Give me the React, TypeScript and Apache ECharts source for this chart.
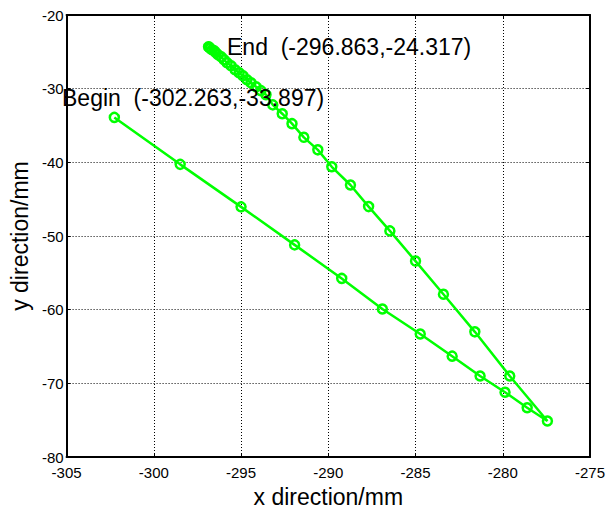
import React, { useEffect, useRef } from "react";
import * as echarts from "echarts";

const outwardPath: [number, number][] = [
  [-302.263, -33.897],
  [-298.49, -40.27],
  [-295.0, -46.04],
  [-291.93, -51.2],
  [-289.23, -55.75],
  [-286.9, -59.9],
  [-284.73, -63.3],
  [-282.9, -66.3],
  [-281.3, -69.0],
  [-279.87, -71.2],
  [-278.6, -73.3],
  [-277.44, -75.1],
];

const returnPath: [number, number][] = [
  [-279.6, -69.0],
  [-281.6, -63.0],
  [-283.4, -57.9],
  [-285.0, -53.4],
  [-286.47, -49.3],
  [-287.69, -46.0],
  [-288.73, -43.07],
  [-289.8, -40.6],
  [-290.6, -38.3],
  [-291.4, -36.6],
  [-292.08, -34.75],
  [-292.64, -33.4],
  [-293.18, -32.2],
  [-293.57, -30.81],
  [-293.86, -30.27],
  [-294.14, -29.73],
  [-294.43, -29.19],
  [-294.66, -28.78],
  [-294.89, -28.24],
  [-295.11, -27.84],
  [-295.34, -27.43],
  [-295.57, -26.89],
  [-295.8, -26.49],
  [-295.97, -26.08],
  [-296.14, -25.68],
  [-296.31, -25.41],
  [-296.43, -25.14],
  [-296.54, -24.86],
  [-296.66, -24.73],
  [-296.77, -24.53],
  [-296.83, -24.39],
  [-296.863, -24.317],
];

const beginLabel = "Begin  (-302.263,-33.897)";
const endLabel = "End  (-296.863,-24.317)";
const xTitle = "x direction/mm";
const yTitle = "y direction/mm";

const FONT = "'Liberation Sans', Arial, Helvetica, sans-serif";
const GREEN = "#00ff00";

export default function App() {
  const ref = useRef<HTMLDivElement>(null);

  useEffect(() => {
    document.body.style.margin = "0";
    if (!ref.current) return;
    const chart = echarts.init(ref.current, null, { renderer: "svg" });
    const gridLine = { show: true, lineStyle: { color: "#000", width: 1, type: [1, 2] as any } };
    const axisLine = { show: true, onZero: false, lineStyle: { color: "#000", width: 2 } };
    const tick = { show: true, inside: true, length: 4, lineStyle: { color: "#000", width: 1 } };
    chart.setOption({
      animation: false,
      backgroundColor: "#fff",
      textStyle: { fontFamily: FONT },
      grid: { left: 66, top: 15, right: 16, bottom: 54 },
      xAxis: [
        {
          type: "value",
          min: -305,
          max: -275,
          interval: 5,
          position: "bottom",
          axisLine,
          axisTick: tick,
          splitLine: gridLine,
          axisLabel: { color: "#000", fontSize: 15, fontFamily: FONT, margin: 8 },
          name: xTitle,
          nameLocation: "middle",
          nameGap: 27,
          nameTextStyle: { color: "#000", fontSize: 23, fontFamily: FONT },
        },
        {
          type: "value",
          min: -305,
          max: -275,
          interval: 5,
          position: "top",
          axisLine,
          axisTick: tick,
          splitLine: { show: false },
          axisLabel: { show: false },
        },
      ],
      yAxis: [
        {
          type: "value",
          min: -80,
          max: -20,
          interval: 10,
          position: "left",
          axisLine,
          axisTick: tick,
          splitLine: gridLine,
          axisLabel: { color: "#000", fontSize: 15, fontFamily: FONT, margin: 3 },
          name: yTitle,
          nameLocation: "middle",
          nameGap: 30,
          nameTextStyle: { color: "#000", fontSize: 23, fontFamily: FONT },
        },
        {
          type: "value",
          min: -80,
          max: -20,
          interval: 10,
          position: "right",
          axisLine,
          axisTick: tick,
          splitLine: { show: false },
          axisLabel: { show: false },
        },
      ],
      series: [
        {
          type: "line",
          data: [...outwardPath, ...returnPath],
          xAxisIndex: 0,
          yAxisIndex: 0,
          symbol: "circle",
          symbolSize: 9,
          showAllSymbol: true,
          clip: false,
          lineStyle: { color: GREEN, width: 2.5 },
          itemStyle: { color: "rgba(0,0,0,0)", borderColor: GREEN, borderWidth: 2.5 },
          z: 3,
        },
      ],
      graphic: [
        {
          type: "text",
          x: 62,
          y: 98,
          z: 10,
          style: { text: beginLabel, fill: "#000", font: `23px ${FONT}`, verticalAlign: "middle" },
        },
        {
          type: "text",
          x: 227,
          y: 47,
          z: 10,
          style: { text: endLabel, fill: "#000", font: `23px ${FONT}`, verticalAlign: "middle" },
        },
      ],
    });
    return () => chart.dispose();
  }, []);

  return <div ref={ref} style={{ width: 608, height: 513 }} />;
}
